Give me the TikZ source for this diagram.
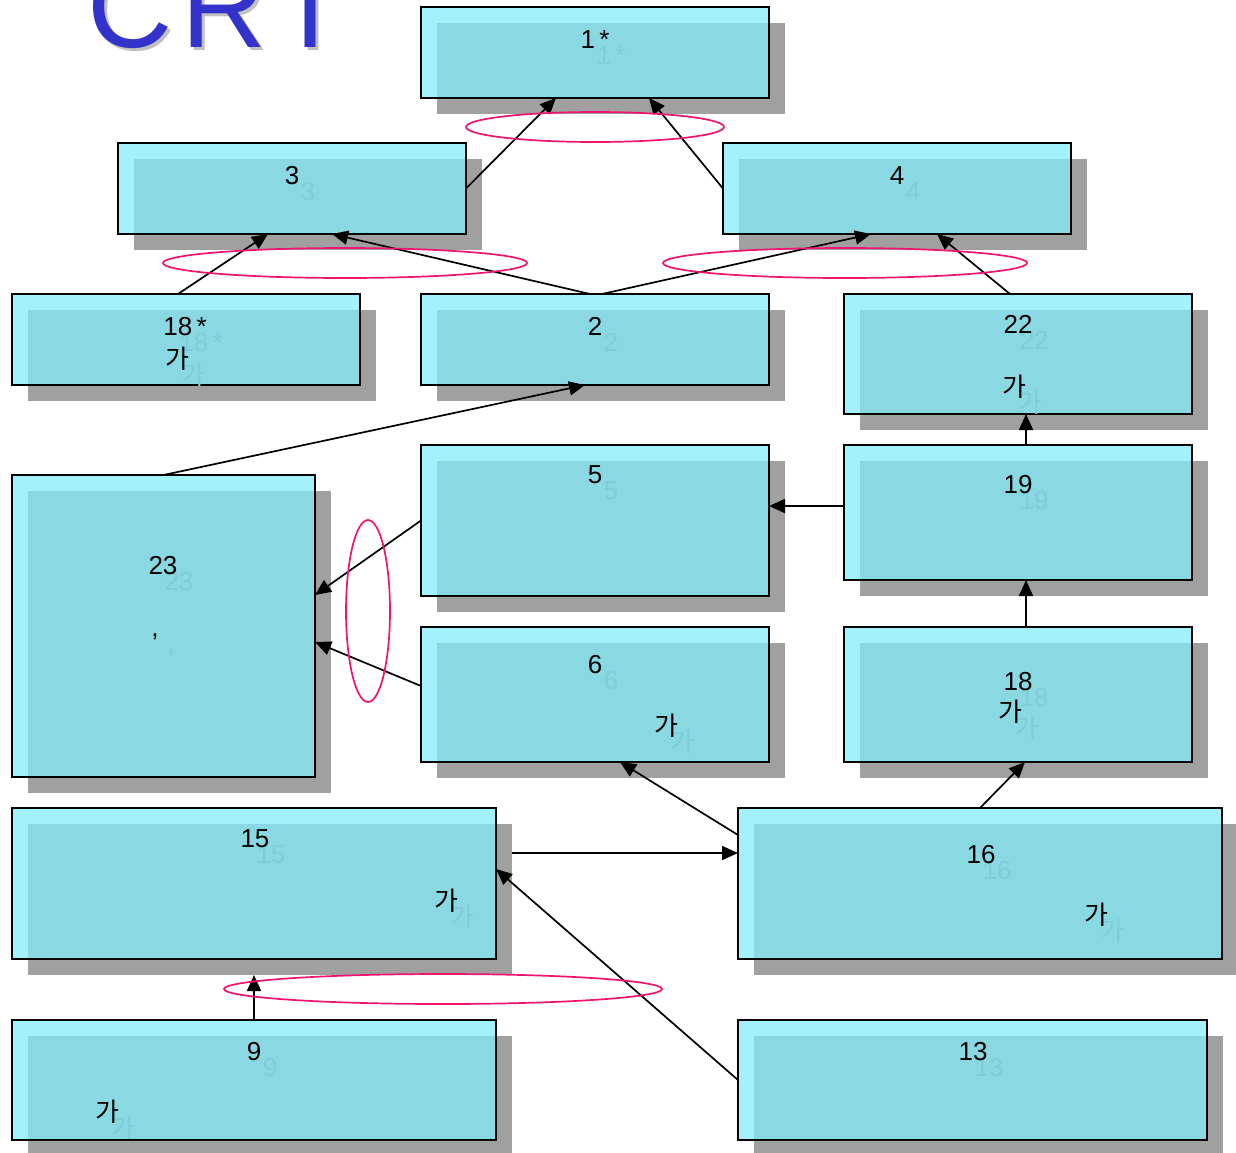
\documentclass[tikz,border=0pt]{standalone}
\usepackage{fontspec}
\setmainfont{Liberation Sans}
\newfontfamily\krfont{Noto Sans CJK KR}
\usetikzlibrary{positioning,arrows.meta,shadows,calc}

\definecolor{boxcyan}{HTML}{A3F1FB}
\definecolor{boxshade}{HTML}{8AD9E2}
\definecolor{shadowgray}{HTML}{A0A0A0}
\definecolor{ghosttext}{HTML}{80CFD8}
\definecolor{ringred}{HTML}{F0146E}
\definecolor{titleblue}{HTML}{3333CC}
\definecolor{titleshadow}{HTML}{C0C0C0}

\newcommand{\hanga}{{\krfont 가}}
% label with its faint offset copy
\newcommand{\boxlabel}[3]{%
  \node[ghost] (#2g) at ([shift={(16,16)}]#1) {#3};
  \node[lbl] (#2) at (#1) {#3};
}

\begin{document}
\begin{tikzpicture}[
  x=1pt, y=-1pt,
  cbox/.style 2 args={draw=black, line width=1.8pt, fill=boxcyan, inner sep=0pt, outer sep=0pt,
    minimum width=#1, minimum height=#2,
    drop shadow={shadow xshift=16pt, shadow yshift=-16pt, fill=shadowgray, opacity=1},
    path picture={\fill[boxshade] ([xshift=16pt,yshift=-16pt]path picture bounding box.north west) rectangle (path picture bounding box.south east);}},
  lbl/.style={anchor=base, inner sep=0pt, font=\fontsize{26}{30}\selectfont},
  ghost/.style={lbl, text=ghosttext},
  link/.style={-{Triangle[length=16pt,width=14pt]}, line width=1.7pt},
  ring/.style={draw=ringred, line width=1.7pt},
  title/.style={anchor=base west, inner sep=0pt, font=\fontsize{118}{120}\selectfont\addfontfeatures{LetterSpace=8}}
]
\useasboundingbox (0,0) rectangle (1236,1152);

\node[title, text=titleshadow] (crtg) at (90,50) {CRT};
\node[title, text=titleblue] (crt) at (87,47) {CRT};

% boxes
\node[cbox={348pt}{91pt}] (b1) at (595,52.5) {};
\node[cbox={348pt}{91pt}] (b3) at (292,188.5) {};
\node[cbox={348pt}{91pt}] (b4) at (897,188.5) {};
\node[cbox={348pt}{91pt}] (b18s) at (186,339.5) {};
\node[cbox={348pt}{91pt}] (b2) at (595,339.5) {};
\node[cbox={348pt}{120pt}] (b22) at (1018,354) {};
\node[cbox={303pt}{302pt}] (b23) at (163.5,626) {};
\node[cbox={348pt}{151pt}] (b5) at (595,520.5) {};
\node[cbox={348pt}{135pt}] (b19) at (1018,512.5) {};
\node[cbox={348pt}{135pt}] (b6) at (595,694.5) {};
\node[cbox={348pt}{135pt}] (b18) at (1018,694.5) {};
\node[cbox={484pt}{151pt}] (b15) at (254,883.5) {};
\node[cbox={484pt}{151pt}] (b16) at (980,883.5) {};
\node[cbox={484pt}{120pt}] (b9) at (254,1080) {};
\node[cbox={469pt}{120pt}] (b13) at (972.5,1080) {};

% texts
\boxlabel{595,48}{t1}{1\,*}
\boxlabel{292,184}{t3}{3}
\boxlabel{897,184}{t4}{4}
\boxlabel{185,335}{t18sa}{18\,*}
\boxlabel{177,368}{t18sb}{\hanga}
\boxlabel{595,335}{t2}{2}
\boxlabel{1018,333}{t22a}{22}
\boxlabel{1014,396}{t22b}{\hanga}
\boxlabel{163,574}{t23a}{23}
\boxlabel{155,636}{t23b}{,}
\boxlabel{595,483}{t5}{5}
\boxlabel{1018,493}{t19}{19}
\boxlabel{595,673}{t6a}{6}
\boxlabel{666,735}{t6b}{\hanga}
\boxlabel{1018,690}{t18a}{18}
\boxlabel{1010,721}{t18b}{\hanga}
\boxlabel{255,847}{t15a}{15}
\boxlabel{446,910}{t15b}{\hanga}
\boxlabel{981,863}{t16a}{16}
\boxlabel{1096,924}{t16b}{\hanga}
\boxlabel{254,1060}{t9a}{9}
\boxlabel{107,1121}{t9b}{\hanga}
\boxlabel{973,1060}{t13}{13}

% connectors
\coordinate (c19w) at ([yshift=6.5pt]b19.west);
\coordinate (c15e) at ([yshift=30.5pt]b15.east);
\draw[link] (b3.east) -- ([xshift=-39pt]b1.south);
\draw[link] (b4.west) -- ([xshift=54pt]b1.south);
\draw[link] ([xshift=-8pt]b18s.north) -- ([xshift=-24pt]b3.south);
\draw[link] ([xshift=-5pt]b2.north) -- ([xshift=40pt]b3.south);
\draw[link] ([xshift=7pt]b2.north) -- ([xshift=-26pt]b4.south);
\draw[link] ([xshift=-8pt]b22.north) -- ([xshift=40pt]b4.south);
\draw[link] (b23.north) -- ([xshift=-10pt]b2.south);
\draw[link] ([xshift=8pt]b19.north) -- ([xshift=8pt]b22.south);
\draw[link] (c19w) -- (c19w -| b5.east);
\draw[link] ([xshift=8pt]b18.north) -- ([xshift=8pt]b19.south);
\draw[link] (b5.west) -- ([yshift=31pt]b23.east);
\draw[link] ([yshift=8.5pt]b6.west) -- ([yshift=-16pt]b23.east);
\draw[link] ([yshift=48.5pt]b16.west) -- ([xshift=25pt]b6.south);
\draw[link] (b16.north) -- ([xshift=7pt]b18.south);
\draw[link, shorten <=16pt] (c15e) -- (c15e -| b16.west);
\draw[link] (b13.west) -- ([yshift=14.5pt]b15.east);
\draw[link, shorten >=16pt] (b9.north) -- (b15.south);

% rings
\draw[ring] (595,127) ellipse [x radius=129pt, y radius=15pt];
\draw[ring] (345,263) ellipse [x radius=182pt, y radius=15pt];
\draw[ring] (845,263) ellipse [x radius=182pt, y radius=15pt];
\draw[ring] (368,611) ellipse [x radius=22pt, y radius=91pt];
\draw[ring] (443,989) ellipse [x radius=219pt, y radius=15pt];
\end{tikzpicture}
\end{document}
